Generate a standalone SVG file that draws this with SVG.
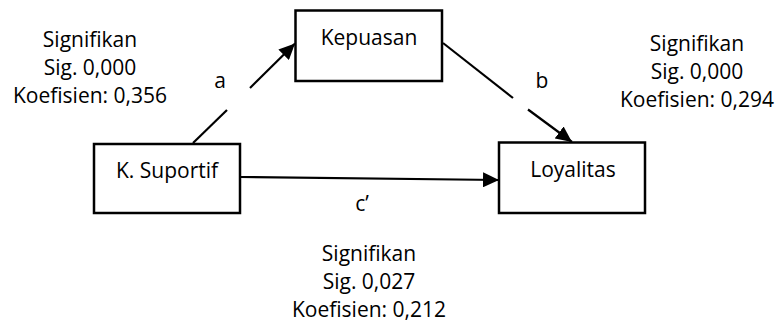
<svg xmlns="http://www.w3.org/2000/svg" width="776" height="323" viewBox="0 0 776 323">
<style>
text{font-family:"Open Sans","Noto Sans","Liberation Sans",sans-serif;font-size:21px;fill:#000;text-anchor:middle}
.box{fill:#fff;stroke:#000;stroke-width:2.5}
.ln{stroke:#000;stroke-width:2.2;fill:none}
</style>
<defs>
<marker id="ah" markerUnits="userSpaceOnUse" markerWidth="17" markerHeight="15" viewBox="0 0 17 15" refX="16" refY="7.5" orient="auto">
<path d="M0,0 L16,7.5 L0,15 Z" fill="#000"/>
</marker>
</defs>
<g id="connectors">
<line class="ln" x1="193" y1="143" x2="227" y2="110"/>
<line class="ln" x1="250" y1="88" x2="295" y2="43.5" marker-end="url(#ah)"/>
<line class="ln" x1="443" y1="43" x2="513" y2="98"/>
<line class="ln" x1="528" y1="109.5" x2="572" y2="142" marker-end="url(#ah)"/>
<line class="ln" x1="240" y1="177" x2="499" y2="180" marker-end="url(#ah)"/>
<text x="220" y="88">a</text>
<text x="542" y="88">b</text>
<text x="362" y="211">c’</text>
</g>
<g id="kepuasan">
<rect class="box" x="295.5" y="10.5" width="146.5" height="70.5"/>
<text x="369" y="45">Kepuasan</text>
</g>
<g id="suportif">
<rect class="box" x="94" y="144" width="146" height="69"/>
<text x="167" y="178">K. Suportif</text>
</g>
<g id="loyalitas">
<rect class="box" x="499" y="142.5" width="146" height="70.5"/>
<text x="573" y="177">Loyalitas</text>
</g>
<g id="stat-a">
<text x="90" y="46.5">Signifikan</text>
<text x="90" y="74.5">Sig. 0,000</text>
<text x="90" y="102.5">Koefisien: 0,356</text>
</g>
<g id="stat-b">
<text x="697" y="51">Signifikan</text>
<text x="697" y="79">Sig. 0,000</text>
<text x="697" y="107">Koefisien: 0,294</text>
</g>
<g id="stat-c">
<text x="369" y="261">Signifikan</text>
<text x="369" y="289">Sig. 0,027</text>
<text x="369" y="317">Koefisien: 0,212</text>
</g>
</svg>
